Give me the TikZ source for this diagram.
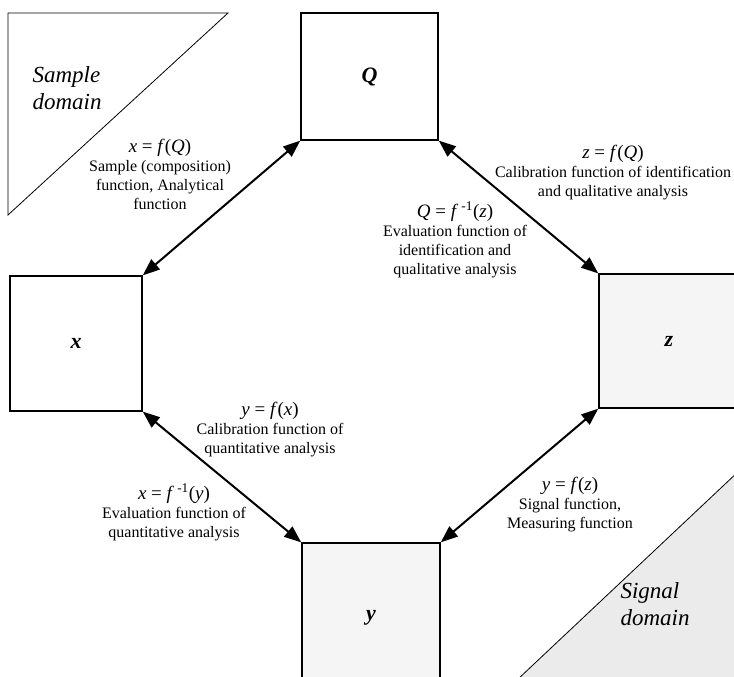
\documentclass[tikz,border=0pt]{standalone}
\usepackage{fontspec}
\setmainfont{Liberation Serif}
\usetikzlibrary{arrows.meta}
\definecolor{boxgray}{gray}{0.96}
\definecolor{trigray}{gray}{0.92}
\newcommand{\fml}[1]{{\fontsize{19}{19}\selectfont #1}}
\tikzset{
  box/.style={draw=black, line width=2pt, inner sep=0pt, outer sep=0pt, font=\fontsize{22}{24}\selectfont\bfseries\itshape},
  link/.style={line width=2pt, {Triangle[length=17pt,width=13pt]}-{Triangle[length=17pt,width=13pt]}, shorten <=1pt, shorten >=1pt},
  lbl/.style={align=center, inner sep=0pt, font=\fontsize{16}{19}\selectfont},
  dom/.style={align=left, inner sep=0pt, font=\fontsize{23}{27}\selectfont\itshape},
  tri/.style={draw=black, line width=0.8pt}
}
\begin{document}
\begin{tikzpicture}[x=1pt,y=-1pt]
\useasboundingbox (0,0) rectangle (734,677);
\fill[white] (0,0) rectangle (734,677);
% domains
\draw[tri, fill=white] (8,13) -- (228,13) -- (8,215) -- cycle;
\draw[tri, fill=trigray] (517,680) -- (740,470) -- (740,680) -- cycle;
\node[dom] (sd) at (67,88) {Sample\\domain};
\node[dom] (gd) at (655,604) {Signal\\domain};
% boxes
\node[box, fill=white, minimum width=137pt, minimum height=127pt] (Q) at (369.5,76.5) {Q};
\node[box, fill=white, minimum width=132pt, minimum height=135pt] (X) at (76,343.5) {x};
\node[box, fill=boxgray, minimum width=140pt, minimum height=134pt] (Z) at (669,341) {z};
\node[box, fill=boxgray, minimum width=138pt, minimum height=150pt] (Y) at (371,618) {y};
% connectors
\draw[link] (Q.south west) -- (X.north east);
\draw[link] (Q.south east) -- (Z.north west);
\draw[link] (X.south east) -- (Y.north west);
\draw[link] (Z.south west) -- (Y.north east);
% labels
\node[lbl, anchor=north] (l1) at (160,139) {\fml{\textit{x} = \textit{f}(\textit{Q})}\\Sample (composition)\\function, Analytical\\function};
\node[lbl, anchor=north] (l2) at (613,145) {\fml{\textit{z} = \textit{f}(\textit{Q})}\\Calibration function of identification\\and qualitative analysis};
\node[lbl, anchor=north] (l3) at (455,202) {\fml{\textit{Q} = \textit{f}\,\textsuperscript{-1}(\textit{z})}\\Evaluation function of\\identification and\\qualitative analysis};
\node[lbl, anchor=north] (l4) at (270,402) {\fml{\textit{y} = \textit{f}(\textit{x})}\\Calibration function of\\quantitative analysis};
\node[lbl, anchor=north] (l5) at (174,484) {\fml{\textit{x} = \textit{f}\,\textsuperscript{-1}(\textit{y})}\\Evaluation function of\\quantitative analysis};
\node[lbl, anchor=north] (l6) at (570,477) {\fml{\textit{y} = \textit{f}(\textit{z})}\\Signal function,\\Measuring function};
\end{tikzpicture}
\end{document}
